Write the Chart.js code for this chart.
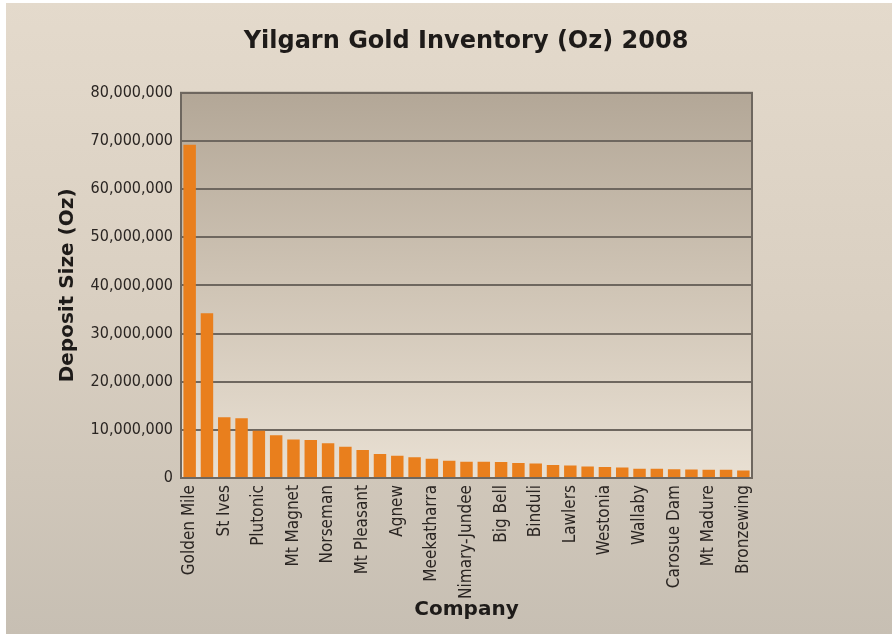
<!DOCTYPE html>
<html>
<head>
<meta charset="utf-8">
<script src="https://cdn.jsdelivr.net/npm/chart.js@4.4.1/dist/chart.umd.min.js"></script>
<style>
    html, body { margin: 0; padding: 0; background: #fff; }
    #wrap { width: 892px; height: 634px; }
</style>
</head>
<body>
<div id="wrap"><canvas id="goldChart" width="892" height="634"></canvas></div>
<script>
// every other deposit carries a label on the axis
const companies = [
    "Golden Mile", "", "St Ives", "", "Plutonic", "", "Mt Magnet", "", "Norseman", "",
    "Mt Pleasant", "", "Agnew", "", "Meekatharra", "", "Nimary-Jundee", "", "Big Bell", "",
    "Binduli", "", "Lawlers", "", "Westonia", "", "Wallaby", "", "Carosue Dam", "",
    "Mt Madure", "", "Bronzewing"
];

const depositOz = [
    69200000, 34200000, 12600000, 12400000, 9800000, 8900000, 8000000, 7900000, 7200000, 6500000,
    5800000, 5000000, 4600000, 4300000, 4000000, 3600000, 3400000, 3350000, 3300000, 3100000,
    3000000, 2700000, 2600000, 2400000, 2300000, 2200000, 1900000, 1900000, 1800000, 1750000,
    1700000, 1700000, 1550000
];

const yTicks = [0, 10000000, 20000000, 30000000, 40000000, 50000000, 60000000, 70000000, 80000000];

const narrow = "'DejaVu Sans Condensed', 'Liberation Sans Narrow', sans-serif";
const heavy = "'DejaVu Sans', sans-serif";

// page backdrop + shaded plot panel
const backdrop = {
    id: "backdrop",
    beforeDraw(chart) {
        const { ctx, width, height, chartArea: a } = chart;
        ctx.save();
        const bg = ctx.createLinearGradient(0, 0, 0, height);
        bg.addColorStop(0, "#e4dacc");
        bg.addColorStop(0.5, "#d9cfc1");
        bg.addColorStop(1, "#c7bfb3");
        ctx.fillStyle = bg;
        ctx.fillRect(0, 0, width, height);
        ctx.fillStyle = "#ffffff";
        ctx.fillRect(0, 0, 6, height);
        ctx.fillRect(0, 0, width, 3);

        const panel = ctx.createLinearGradient(0, a.top, 0, a.bottom);
        panel.addColorStop(0, "#b3a797");
        panel.addColorStop(0.5, "#cfc4b5");
        panel.addColorStop(1, "#e9e0d3");
        ctx.fillStyle = panel;
        ctx.fillRect(a.left, a.top, a.right - a.left, a.bottom - a.top);
        ctx.restore();
    },
    afterDatasetsDraw(chart) {
        const { ctx, chartArea: a } = chart;
        ctx.save();
        ctx.strokeStyle = "#6e675f";
        ctx.lineWidth = 2;
        ctx.strokeRect(a.left, a.top, a.right - a.left, a.bottom - a.top);
        ctx.restore();
    }
};

new Chart(document.getElementById("goldChart"), {
    type: "bar",
    data: {
        labels: companies,
        datasets: [{
            label: "Deposit Size (Oz)",
            data: depositOz,
            backgroundColor: "#e97f1d",
            borderWidth: 0,
            categoryPercentage: 1,
            barPercentage: 0.72
        }]
    },
    options: {
        responsive: false,
        animation: false,
        layout: { padding: { left: 40, right: 0, top: 0, bottom: 8 } },
        plugins: {
            legend: { display: false },
            tooltip: { enabled: false },
            title: {
                display: true,
                text: "Yilgarn Gold Inventory (Oz) 2008",
                color: "#1e1b19",
                font: { family: heavy, size: 24, weight: "bold" },
                padding: { top: 27, bottom: 37 }
            }
        },
        scales: {
            x: {
                grid: { display: false, drawTicks: false },
                border: { display: false },
                afterFit(scale) { scale.height = 148; },
                ticks: {
                    autoSkip: false,
                    minRotation: 90,
                    maxRotation: 90,
                    padding: 7,
                    color: "#2a2522",
                    font: { family: narrow, size: 17 }
                },
                title: {
                    display: true,
                    text: "Company",
                    color: "#1e1b19",
                    font: { family: heavy, size: 20, weight: "bold" },
                    padding: { top: 0, bottom: 4 }
                }
            },
            y: {
                min: 0,
                max: 80000000,
                afterFit(scale) { scale.width = 141; },
                afterBuildTicks(scale) { scale.ticks = yTicks.map(v => ({ value: v })); },
                grid: { color: "#6e675f", lineWidth: 2, drawTicks: false },
                border: { display: false },
                ticks: {
                    padding: 8,
                    color: "#2a2522",
                    font: { family: narrow, size: 16 },
                    callback: v => v.toLocaleString("en-US")
                },
                title: {
                    display: true,
                    text: "Deposit Size (Oz)",
                    color: "#1e1b19",
                    font: { family: heavy, size: 20, weight: "bold" },
                    padding: { top: 16, bottom: 0 }
                }
            },
            // empty margin on the right so the heading centres over the panel
            pad: {
                type: "linear",
                position: "right",
                afterFit(scale) { scale.width = 140; },
                grid: { display: false, drawTicks: false },
                border: { display: false },
                ticks: { display: false }
            }
        }
    },
    plugins: [backdrop]
});
</script>
</body>
</html>
